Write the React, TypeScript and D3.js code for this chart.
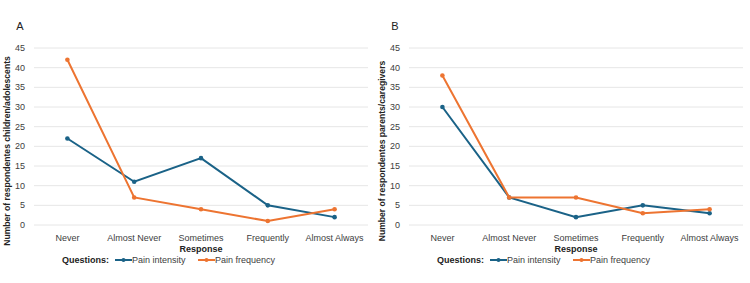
import React from 'react';
import * as d3 from 'd3';

const responses = ['Never', 'Almost Never', 'Sometimes', 'Frequently', 'Almost Always'];
const yTicks = [0, 5, 10, 15, 20, 25, 30, 35, 40, 45];

// children/adolescents
const childIntensity = [22, 11, 17, 5, 2];
const childFrequency = [42, 7, 4, 1, 4];

// parents/caregivers
const parentIntensity = [30, 7, 2, 5, 3];
const parentFrequency = [38, 7, 7, 3, 4];

const BLUE = '#1a6287';
const ORANGE = '#ed7431';
const TEXT = '#404040';
const FONT = '"Liberation Sans", Arial, sans-serif';

const W = 375;
const H = 283;
const margin = { top: 48, right: 7, bottom: 58, left: 34 };

type PanelProps = {
  letter: string;
  yTitle: string;
  intensity: number[];
  frequency: number[];
  offsetX: number;
};

const Panel = ({ letter, yTitle, intensity, frequency, offsetX }: PanelProps) => {
  const x = d3.scalePoint<string>()
    .domain(responses)
    .range([margin.left, W - margin.right])
    .padding(0.5);
  const y = d3.scaleLinear()
    .domain([0, 45])
    .range([H - margin.bottom, margin.top]);

  const line = d3.line<number>()
    .x((_, i) => x(responses[i]) as number)
    .y(d => y(d));

  const series = [
    { values: intensity, color: BLUE },
    { values: frequency, color: ORANGE },
  ];

  return (
    <g transform={`translate(${offsetX},0)`} fontFamily={FONT}>
      <text x={20} y={30} fontSize={11} fill="#222" textAnchor="middle">{letter}</text>

      {yTicks.map(t => (
        <g key={t}>
          <line x1={margin.left} x2={W - margin.right} y1={y(t)} y2={y(t)} stroke="#e6e6e6" strokeWidth={1} />
          <text x={25} y={y(t)} dy="0.35em" textAnchor="end" fontSize={9} fill={TEXT}>{t}</text>
        </g>
      ))}

      <text
        transform={`translate(10,151) rotate(-90)`}
        textAnchor="middle"
        fontSize={8.6}
        fontWeight="bold"
        fill="#222"
      >{yTitle}</text>

      {responses.map(r => (
        <text key={r} x={x(r)} y={238} dy="0.35em" textAnchor="middle" fontSize={9} fill={TEXT}>{r}</text>
      ))}
      <text x={(margin.left + W - margin.right) / 2} y={249} dy="0.35em" textAnchor="middle" fontSize={9} fontWeight="bold" fill="#222">Response</text>

      {series.map((s, si) => (
        <g key={si}>
          <path d={line(s.values) ?? ''} fill="none" stroke={s.color} strokeWidth={2} />
          {s.values.map((v, i) => (
            <circle key={i} cx={x(responses[i])} cy={y(v)} r={2.3} fill={s.color} />
          ))}
        </g>
      ))}

      {/* legend */}
      <g transform="translate(0,260)" fontSize={9}>
        <text x={62} y={0} dy="0.35em" fontWeight="bold" fill="#222">Questions:</text>
        <line x1={115} x2={132} y1={0} y2={0} stroke={BLUE} strokeWidth={2} />
        <circle cx={123.5} cy={0} r={2} fill={BLUE} />
        <text x={132} y={0} dy="0.35em" fill={TEXT}>Pain intensity</text>
        <line x1={198} x2={215} y1={0} y2={0} stroke={ORANGE} strokeWidth={2} />
        <circle cx={206.5} cy={0} r={2} fill={ORANGE} />
        <text x={215} y={0} dy="0.35em" fill={TEXT}>Pain frequency</text>
      </g>
    </g>
  );
};

const App = () => (
  <svg width={750} height={283} style={{ position: 'absolute', left: 0, top: 0, background: '#fff' }}>
    <Panel
      letter="A"
      yTitle="Number of respondentes children/adolescents"
      intensity={childIntensity}
      frequency={childFrequency}
      offsetX={0}
    />
    <Panel
      letter="B"
      yTitle="Number of respondentes parents/caregivers"
      intensity={parentIntensity}
      frequency={parentFrequency}
      offsetX={375}
    />
  </svg>
);

export default App;
